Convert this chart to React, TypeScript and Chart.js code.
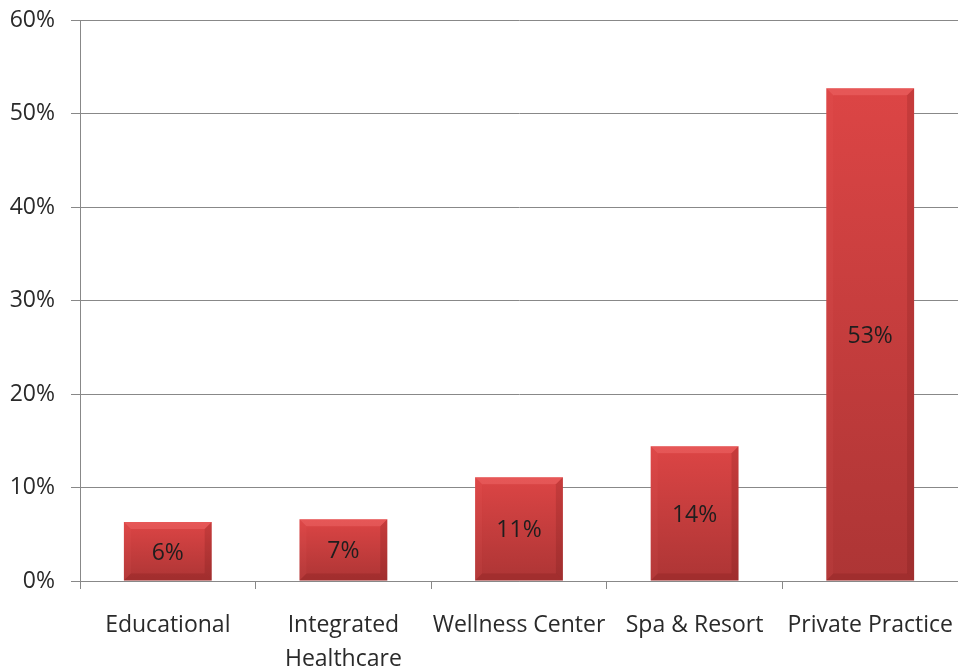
import React, { useEffect, useRef } from "react";
import { Chart, registerables } from "chart.js";

Chart.register(...registerables);

const categories: (string | string[])[] = [
  "Educational",
  ["Integrated", "Healthcare"],
  "Wellness Center",
  "Spa & Resort",
  "Private Practice",
];
const shares: number[] = [6.3, 6.6, 11.1, 14.4, 52.7];
const yTicks: number[] = [0, 10, 20, 30, 40, 50, 60];

const FONT = "'Open Sans', 'Noto Sans', sans-serif";

const bevelPlugin = {
  id: "bevel",
  afterDatasetsDraw(chart: any) {
    const ctx = chart.ctx;
    const meta = chart.getDatasetMeta(0);
    meta.data.forEach((bar: any, i: number) => {
      const { x, y, base, width } = bar.getProps(["x", "y", "base", "width"], true);
      const l = x - width / 2;
      const r = x + width / 2;
      const t = y;
      const b = base;
      const e = Math.min(7, (b - t) / 3);
      ctx.save();
      ctx.beginPath();
      ctx.moveTo(l, t);
      ctx.lineTo(r, t);
      ctx.lineTo(r - e, t + e);
      ctx.lineTo(l + e, t + e);
      ctx.closePath();
      ctx.fillStyle = "rgba(255,130,130,0.3)";
      ctx.fill();
      ctx.beginPath();
      ctx.moveTo(l, t);
      ctx.lineTo(l + e, t + e);
      ctx.lineTo(l + e, b - e);
      ctx.lineTo(l, b);
      ctx.closePath();
      ctx.fillStyle = "rgba(255,120,120,0.08)";
      ctx.fill();
      ctx.beginPath();
      ctx.moveTo(r, t);
      ctx.lineTo(r - e, t + e);
      ctx.lineTo(r - e, b - e);
      ctx.lineTo(r, b);
      ctx.closePath();
      ctx.fillStyle = "rgba(90,10,10,0.16)";
      ctx.fill();
      ctx.beginPath();
      ctx.moveTo(l, b);
      ctx.lineTo(l + e, b - e);
      ctx.lineTo(r - e, b - e);
      ctx.lineTo(r, b);
      ctx.closePath();
      ctx.fillStyle = "rgba(90,10,10,0.15)";
      ctx.fill();
      ctx.fillStyle = "#1e1e1e";
      ctx.font = `23px ${FONT}`;
      ctx.textAlign = "center";
      ctx.textBaseline = "middle";
      ctx.fillText(Math.round(shares[i]) + "%", x, (t + b) / 2 + 2);
      ctx.restore();
    });
  },
};

export default function App() {
  const ref = useRef<HTMLCanvasElement | null>(null);
  useEffect(() => {
    if (!ref.current) return;
    const chart = new Chart(ref.current, {
      type: "bar",
      data: {
        labels: categories as any,
        datasets: [
          {
            data: shares,
            barPercentage: 0.5,
            categoryPercentage: 1,
            backgroundColor: (c: any) => {
              const ch = c.chart;
              const ys = ch.scales && ch.scales.y;
              if (!ys || c.raw == null) return "#c83a3a";
              const top = ys.getPixelForValue(c.raw);
              const bottom = ys.getPixelForValue(0);
              if (!isFinite(top) || !isFinite(bottom) || top === bottom) return "#c83a3a";
              const g = ch.ctx.createLinearGradient(0, top, 0, bottom);
              g.addColorStop(0, "#dc4545");
              g.addColorStop(1, "#ad3535");
              return g;
            },
            borderWidth: 0,
          },
        ],
      },
      options: {
        responsive: false,
        animation: false,
        layout: { padding: { top: 20, right: 0, left: 0, bottom: 0 } },
        plugins: { legend: { display: false }, tooltip: { enabled: false } },
        scales: {
          x: {
            afterFit: (axis: any) => {
              axis.paddingLeft = 0;
              axis.paddingRight = 0;
              axis.height = 86;
            },
            grid: {
              display: true,
              drawOnChartArea: false,
              drawTicks: true,
              tickLength: 8,
              color: "#888",
              offset: true,
            },
            border: { color: "#888", width: 1 },
            ticks: {
              color: "#2a2a2a",
              font: { family: FONT, size: 23, lineHeight: 1.5 },
              padding: 19,
              maxRotation: 0,
              autoSkip: false,
            },
          },
          y: {
            min: 0,
            max: 60,
            afterBuildTicks: (axis: any) => {
              axis.ticks = yTicks.map((v) => ({ value: v }));
            },
            afterFit: (axis: any) => {
              axis.width = 80;
              axis.paddingTop = 0;
              axis.paddingBottom = 0;
            },
            grid: { color: "#888", tickLength: 9, lineWidth: 1 },
            border: { color: "#888", width: 1 },
            ticks: {
              color: "#2a2a2a",
              font: { family: FONT, size: 23 },
              padding: 16,
              callback: (v: any) => v + "%",
            },
          },
        },
      },
      plugins: [bevelPlugin],
    });
    return () => chart.destroy();
  }, []);
  return (
    <div style={{ position: "fixed", left: 0, top: 0, width: 958, height: 667, background: "#fff" }}>
      <canvas ref={ref} width={958} height={667} />
    </div>
  );
}
